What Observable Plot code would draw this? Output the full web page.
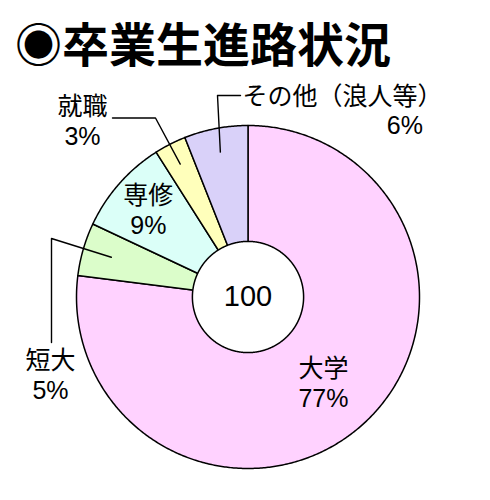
<!DOCTYPE html>
<html><head><meta charset="utf-8">
<script src="https://cdn.jsdelivr.net/npm/d3@7"></script>
<script src="https://cdn.jsdelivr.net/npm/@observablehq/plot@0.6"></script>
<style>
body{margin:0;background:#fff}
#title{box-sizing:border-box;height:75px;padding:18px 0 0 15px;font:700 47px/47px "Noto Sans CJK JP",sans-serif;white-space:nowrap;color:#000}
</style>
</head><body>
<div id="title">◉卒業生進路状況</div>
<div id="chart"></div>
<script>
// ---- data ----
const categories = ["大学", "短大", "専修", "就職", "その他（浪人等）"];
const percents = [77, 5, 9, 3, 6];
const colors = ["#ffd2ff", "#dbfdca", "#dbfff8", "#ffffbb", "#d9d1f9"];
const centerLabel = "100";

// ---- layout ----
const W = 490, H = 425, R = 171.5, CX = 247.5, CY = 221.5, HOLE = 55.6;
const FONT = '"Liberation Sans","Noto Sans CJK JP",sans-serif';
const px = ([dx, dy]) => ({x: dx / R, y: -dy / R}); // pixel offset from centre -> data units

const labelLayout = {
  "大学": {inside: 0.665},
  "専修": {inside: 0.775},
  "短大": {end: 0.83, path: [[-196.5, -58.5], [-196.5, 45.5]], texts: [{at: [-197.5, 77], anchor: "middle", two: true}]},
  "就職": {end: 0.87, path: [[-92.5, -179], [-135.5, -179]], texts: [{at: [-165.5, -177], anchor: "middle", two: true}]},
  "その他（浪人等）": {end: 0.86, path: [[-30.5, -201.5], [-7.5, -201.5]],
    texts: [{at: [-5.5, -201.5], anchor: "start", part: "name"}, {at: [175, -173], anchor: "end", part: "pct"}]}
};

const data = categories.map((c, i) => ({category: c, value: percents[i], color: colors[i]}));
const arcs = d3.pie().sort(null).value(d => d.value)(data);

function arcPoints(a0, a1, r) {
  const n = Math.max(2, Math.ceil((a1 - a0) / (Math.PI / 360)));
  return d3.range(n + 1).map(k => {
    const a = a0 + (a1 - a0) * k / n;
    return {x: r * Math.sin(a), y: r * Math.cos(a)};
  });
}

const marks = [];
// wedges
for (const a of arcs) {
  const pts = [{x: 0, y: 0}, ...arcPoints(a.startAngle, a.endAngle, 1), {x: 0, y: 0}];
  marks.push(Plot.line(pts, {x: "x", y: "y", fill: a.data.color, stroke: "#000", strokeWidth: 1.5, strokeLinejoin: "round"}));
}
// hole
marks.push(Plot.line(arcPoints(0, 2 * Math.PI, HOLE / R), {x: "x", y: "y", fill: "#fff", stroke: "#000", strokeWidth: 1.5}));

// labels + leaders
const textItems = {start: [], middle: [], end: []};
for (const a of arcs) {
  const d = a.data, L = labelLayout[d.category];
  const mid = (a.startAngle + a.endAngle) / 2;
  const pct = `${d.value}%`;
  if (L.inside) {
    textItems.middle.push({x: L.inside * Math.sin(mid), y: L.inside * Math.cos(mid), text: `${d.category}\n${pct}`});
  } else {
    const leader = [{x: L.end * Math.sin(mid), y: L.end * Math.cos(mid)}, ...L.path.map(px)];
    marks.push(Plot.line(leader, {x: "x", y: "y", stroke: "#000", strokeWidth: 1.4}));
    for (const t of L.texts) {
      const p = px(t.at);
      const text = t.two ? `${d.category}\n${pct}` : t.part === "name" ? d.category : pct;
      textItems[t.anchor].push({...p, text});
    }
  }
}
for (const anchor of ["start", "middle", "end"]) {
  marks.push(Plot.text(textItems[anchor], {x: "x", y: "y", text: "text", textAnchor: anchor, fontSize: 25, lineHeight: 1.2, fill: "#000", fontFamily: FONT}));
}
marks.push(Plot.text([{x: 0, y: 0, text: centerLabel}], {x: "x", y: "y", text: "text", fontSize: 29, fill: "#000", fontFamily: FONT}));

const chart = Plot.plot({
  width: W, height: H,
  margin: 0,
  x: {domain: [-CX / R, (W - CX) / R], axis: null},
  y: {domain: [-(H - CY) / R, CY / R], axis: null},
  style: {background: "#fff", fontFamily: FONT},
  marks
});
document.getElementById("chart").appendChild(chart);
</script>
</body></html>
